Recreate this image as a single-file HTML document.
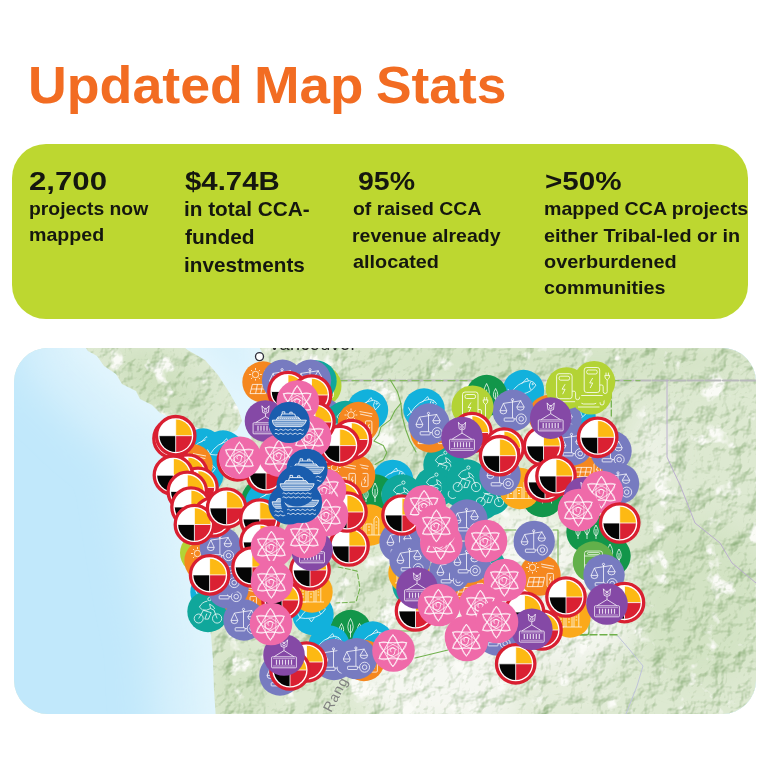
<!DOCTYPE html>
<html><head><meta charset="utf-8"><title>Updated Map Stats</title>
<style>
html,body{margin:0;padding:0;background:#fff;}
body{width:768px;height:768px;position:relative;overflow:hidden;font-family:"Liberation Sans",sans-serif;color:#161616;}
.t{position:absolute;white-space:nowrap;font-weight:bold;line-height:1;transform-origin:0 0;color:#15170f;}
.ti{color:#F26C22;}
#panel{position:absolute;left:12.3px;top:143.7px;width:736.2px;height:175.7px;background:#BDD730;border-radius:34px;}
#map{position:absolute;left:14px;top:347.5px;width:741.5px;height:366px;border-radius:34px;overflow:hidden;background:#DFEAD3;}
#map svg{position:absolute;left:-14px;top:-347.5px;}
</style></head><body>
<div id="panel"></div>
<div class="t ti" style="left:27.9px;top:59.0px;font-size:52px;transform:scaleX(1.0330);">Updated</div>
<div class="t ti" style="left:253.5px;top:59.0px;font-size:52px;transform:scaleX(1.0528);">Map</div>
<div class="t ti" style="left:376.4px;top:59.0px;font-size:52px;transform:scaleX(1.0259);">Stats</div>
<div class="t b" style="left:28.6px;top:169.0px;font-size:25.5px;transform:scaleX(1.2227);">2,700</div>
<div class="t s" style="left:28.5px;top:198.8px;font-size:19px;transform:scaleX(1.0172);">projects now</div>
<div class="t s" style="left:28.5px;top:224.9px;font-size:19px;transform:scaleX(1.0320);">mapped</div>
<div class="t b" style="left:184.5px;top:169.0px;font-size:25.5px;transform:scaleX(1.1517);">$4.74B</div>
<div class="t s" style="left:183.5px;top:200.4px;font-size:19.3px;transform:scaleX(1.0763);">in total CCA-</div>
<div class="t s" style="left:184.5px;top:228.1px;font-size:19.3px;transform:scaleX(1.0837);">funded</div>
<div class="t s" style="left:183.5px;top:256.2px;font-size:19.3px;transform:scaleX(1.0742);">investments</div>
<div class="t b" style="left:358.1px;top:169.1px;font-size:25.5px;transform:scaleX(1.1168);">95%</div>
<div class="t s" style="left:352.6px;top:199.4px;font-size:19px;transform:scaleX(1.0221);">of raised CCA</div>
<div class="t s" style="left:352.1px;top:225.5px;font-size:19px;transform:scaleX(1.0262);">revenue already</div>
<div class="t s" style="left:352.9px;top:252.1px;font-size:19px;transform:scaleX(1.0435);">allocated</div>
<div class="t b" style="left:544.8px;top:168.6px;font-size:25.5px;transform:scaleX(1.1611);">&gt;50%</div>
<div class="t s" style="left:543.9px;top:199.2px;font-size:19px;transform:scaleX(1.0319);">mapped CCA projects</div>
<div class="t s" style="left:544.4px;top:225.5px;font-size:19px;transform:scaleX(1.0430);">either Tribal-led or in</div>
<div class="t s" style="left:544.4px;top:251.5px;font-size:19px;transform:scaleX(1.0469);">overburdened</div>
<div class="t s" style="left:544.4px;top:277.5px;font-size:19px;transform:scaleX(1.0367);">communities</div>
<div id="map"><svg width="768" height="768" viewBox="0 0 768 768">
<defs>
<g id="mw">
<circle r="19.2" fill="#fff" stroke="#D91F31" stroke-width="3.3"/>
<path d="M0 0V-16.2A16.2 16.2 0 0 1 16.2 0Z" fill="#FDB913"/>
<path d="M0 0H16.2A16.2 16.2 0 0 1 0 16.2Z" fill="#DA2032"/>
<path d="M0 0V16.2A16.2 16.2 0 0 1 -16.2 0Z" fill="#050505"/>
<path d="M-16.2 0H16.2M0 -16.2V16.2" stroke="#fff" stroke-width=".8" fill="none"/>
</g>
<g id="pk">
<circle r="21.3" fill="#EF6AA9"/>
<g fill="none" stroke="#fff" stroke-opacity=".82" stroke-width="1" transform="translate(-.6,.2)">
<path d="M0 -16.2L14 8.1H-14ZM0 16.2L-14 -8.1H14Z" stroke-linejoin="round"/>
<g stroke-opacity=".6"><ellipse rx="15" ry="5.6" transform="rotate(30)"/><ellipse rx="15" ry="5.6" transform="rotate(90)"/><ellipse rx="15" ry="5.6" transform="rotate(150)"/></g>
<path d="M-1.5 1.5a2.4 2.4 0 1 1 3.4-.6a3.6 3.6 0 1 1-5.6-2.6a5 5 0 0 1 7.6 1.2"/>
</g>
</g>
<g id="bl">
<circle r="20.6" fill="#1A5DAE"/>
<g fill="none" stroke="#fff" stroke-opacity=".85" stroke-width="1">
<path d="M-16.8 -2.2H17.2C16 1.6 13.6 4 11.5 4.2H-13.2C-15.6 2.8 -16.6 .2 -16.8 -2.2Z" fill="#fff" fill-opacity=".35"/>
<path d="M-14.8 .4H15.2M-14 2.4H13.4" stroke-width=".7"/>
<path d="M-13 -2.4L-11.2 -5.4H9L11.5 -2.4" fill="#fff" fill-opacity=".3"/>
<path d="M-8.4 -5.6L-7.6 -8.4H5.4L6.6 -5.6M-7 -8.6V-10.6H-4.4V-8.6M.6 -8.6V-10.2H3V-8.6"/>
<path d="M-11.6 -3.9H9.8" stroke-dasharray="1.2 .8" stroke-width="1.1"/>
<path d="M-14.4 7.4q1.2-1.2 2.4 0t2.4 0t2.4 0t2.4 0t2.4 0t2.4 0t2.4 0t2.4 0t2.4 0t2.4 0t2.4 0t2.4 0M-14.4 11.4q1.2-1.2 2.4 0t2.4 0t2.4 0t2.4 0t2.4 0t2.4 0t2.4 0t2.4 0t2.4 0t2.4 0t2.4 0t2.4 0" stroke-width=".9"/>
</g>
</g>
<g id="pu">
<circle r="20.8" fill="#8549A6"/>
<g fill="none" stroke="#fff" stroke-opacity=".8" stroke-width=".95">
<rect x="-12.4" y="1.8" width="24.8" height="11" rx=".8"/>
<path d="M-11 3.6H11M-11 11H11" stroke-width=".6"/>
<path d="M-7.5 4.8V9.8M-4.5 4.8V9.8M-1.5 4.8V9.8M1.5 4.8V9.8M4.5 4.8V9.8M7.5 4.8V9.8" stroke-width="1.2"/>
<path d="M-9.8 1.6L0 -4.4L9.8 1.6M0 -4.4V-7.4"/>
<path d="M-3.6 -15.2L-2.8 -8.6Q0 -6.6 2.8 -8.6L3.6 -15.2L1.4 -12.6H-1.4Z"/>
<circle cy="-10.4" r="1.3"/>
</g>
</g>
<g id="lv">
<circle r="20.7" fill="#777BC0"/>
<g fill="none" stroke="#fff" stroke-opacity=".8" stroke-width=".95">
<path d="M-.5 -10V7.6M-9.6 -6.9L8.2 -9.6"/>
<circle cx="-.5" cy="-10.6" r="1.1"/>
<path d="M-9.6 -6.9L-13 .4H-6.2ZM-13 .4a3.4 3.2 0 0 0 6.8 0"/>
<path d="M7.6 -9.5L3.8 -3.3H11.2ZM3.8 -3.3a3.7 3.2 0 0 0 7.4 0"/>
<rect x="-8.8" y="7.7" width="9.8" height="3.2" rx=".6"/>
<circle cx="8.2" cy="8.6" r="5"/><circle cx="8.2" cy="8.6" r="2.3"/>
<path d="M3.2 8.6H1"/>
</g>
</g>
<g id="tl">
<circle r="20.7" fill="#10A79B"/>
<g fill="none" stroke="#fff" stroke-opacity=".8" stroke-width=".95">
<circle cx="-9.3" cy="7" r="4.5"/><circle cx="9.1" cy="7" r="4.6"/>
<circle cx="1.4" cy="-12.4" r="1.6"/>
<path d="M-9.3 7L-4.6 -1.2L3.2 1.2L.4 7.6H-3.2L-1.2 2.2M9.1 7L6 -1.4L2.6 -3M-.6 -10.4Q-6 -9.6 -8.6 -4.4L-5.6 -1.6Q-1.4 -.4 2.6 -3L1.6 -7.4Q5.4 -6 6.8 -2.6"/>
</g>
</g>
<g id="cy">
<circle r="20.7" fill="#12B1DC"/>
<g fill="none" stroke="#fff" stroke-opacity=".8" stroke-width=".95">
<path d="M-13 3.4Q-6 -8.4 6 -9.8Q10.8 -9 12.4 -5.4Q8 2.2 -2 3.6Q-8 4.4 -13 3.4ZM-13 3.4L-15.6 -1.6M-13 3.4L-16.8 6.8"/>
<path d="M-2 -6.6L3.6 -12.4L5 -9.6M-4 4L-1.6 7.4L1.4 3.2M7.2 -8.6Q4.4 -4.4 7.6 -.6"/>
<circle cx="9.2" cy="-6.4" r=".7"/>
</g>
</g>
<g id="lm">
<circle r="21" fill="#B3D335"/>
<g fill="none" stroke="#fff" stroke-opacity=".85" stroke-width=".95">
<rect x="-10" y="-14.5" width="15.5" height="25" rx="2.5"/>
<rect x="-7.5" y="-12" width="10.5" height="4" rx="1.6"/>
<path d="M-1.5 -4L-4.5 1H-1.5L-4 6"/>
<path d="M-13 13.5H8.5"/>
<path d="M5.5 3H7.5Q9 3 9 4.6V9.5Q9 11.5 11 11.5Q13 11.5 13 9.5V-2M13 -2Q10.4 -3.2 10.6 -6.6H15.4Q15.6 -3.2 13 -2M11.8 -6.6V-9.4M14.2 -6.6V-9.4"/>
</g>
</g><g id="gr">
<circle r="20.7" fill="#12964A"/>
<g fill="none" stroke="#fff" stroke-opacity=".8" stroke-width=".95">
<path d="M-9 -7Q-13.4 0 -9 4Q-4.6 0 -9 -7ZM-9 -3V7M0 -12Q-5.4 -3 0 3Q5.4 -3 0 -12ZM0 -6V7M9 -7Q4.6 0 9 4Q13.4 0 9 -7ZM9 -3V7"/>
</g>
</g>
<g id="or">
<circle r="20.7" fill="#F5871F"/>
<g fill="none" stroke="#fff" stroke-opacity=".8" stroke-width=".95">
<circle cx="-7.5" cy="-7.5" r="3.2"/>
<path d="M-7.5 -12V-14M-7.5 -3V-1.4M-12 -7.5H-14M-3 -7.5H-1.2M-10.7 -10.7L-12 -12M-4.3 -4.3L-3 -3M-10.7 -4.3L-12 -3M-4.3 -10.7L-3 -12"/>
<path d="M-10.6 2.4H4.6L2.6 11.6H-13ZM-11.8 7H3.6M-5.6 2.4L-7.4 11.6M-.4 2.4L-2.2 11.6"/>
<rect x="7" y="-1.6" width="6.4" height="13.2" rx="1.2"/>
<path d="M10.8 1.6L9.2 5H11.2L9.8 8.6M1 -11L14 -8.6M1.6 -8.4L13.4 -6"/>
</g>
</g>
<g id="yl">
<circle r="20.7" fill="#FBA91A"/>
<g fill="none" stroke="#fff" stroke-opacity=".75" stroke-width=".95">
<path d="M-12 10V-4L-9 -7L-6 -4V10ZM-4 10V-1H2V10M4 10V-6L6.4 -9L8.8 -6V10M-14 10H12"/>
<path d="M-10 -1H-8M-10 2H-8M-10 5H-8M-2 2H0M-2 5H0M5.6 -3H7.2M5.6 0H7.2M5.6 3H7.2" stroke-width="1.2"/>
</g>
</g>
<g id="lg">
<circle r="20.7" fill="#62B04A"/>
<g fill="none" stroke="#fff" stroke-opacity=".75" stroke-width=".95">
<rect x="-9" y="-11" width="18" height="19" rx="2.5"/><path d="M-9 -6H9M-9 3H9M-6 8V11M6 8V11"/><rect x="-6" y="-9.6" width="12" height="2" rx="1"/>
</g>
</g>
</defs>
<defs>
<linearGradient id="sea" gradientUnits="userSpaceOnUse" x1="14" y1="600" x2="250" y2="430">
<stop offset="0" stop-color="#BCE5FB"/><stop offset=".55" stop-color="#CBEBFB"/><stop offset="1" stop-color="#DCF2FC"/>
</linearGradient>
<filter id="hill" x="0" y="0" width="100%" height="100%" color-interpolation-filters="sRGB">
<feTurbulence type="fractalNoise" baseFrequency="0.05" numOctaves="4" seed="4" result="n"/>
<feDiffuseLighting in="n" surfaceScale="4.2" diffuseConstant="1.31" lighting-color="#ffffff" result="l"><feDistantLight azimuth="225" elevation="50"/></feDiffuseLighting>
<feComponentTransfer in="l" result="c"><feFuncR type="linear" slope=".5" intercept=".5"/><feFuncG type="linear" slope=".34" intercept=".66"/><feFuncB type="linear" slope=".56" intercept=".44"/></feComponentTransfer>
<feComposite in="c" in2="SourceGraphic" operator="in"/>
</filter>
<filter id="snow" x="0" y="0" width="100%" height="100%" color-interpolation-filters="sRGB">
<feTurbulence type="fractalNoise" baseFrequency="0.04" numOctaves="4" seed="23"/>
<feColorMatrix type="matrix" values="0 0 0 0 .98  0 0 0 0 .985  0 0 0 0 .965  0 0 0 8 -5.1"/>
<feComposite in2="SourceGraphic" operator="in"/>
</filter>
<filter id="blur30" x="-20%" y="-20%" width="140%" height="140%"><feGaussianBlur stdDeviation="20"/></filter>
<filter id="blur12"><feGaussianBlur stdDeviation="12"/></filter>
<filter id="blur6"><feGaussianBlur stdDeviation="6"/></filter>
<clipPath id="landclip"><use href="#landshape"/></clipPath>
<path id="landshape" d="M255 340L262 352L263 372L259 395L256 420L250 442L225 449L200 448L180 447L182 470L186 500L191 530L196 560L201 590L206 612L211 635L213 660L214 690L216 720H768V340ZM80 340L88 351L97 356L104 366L116 374L122 384L136 391L140 399L152 405L160 413L174 419L186 423L200 429L212 435L226 436L237 430L242 421L238 408L229 392L218 375L205 360L186 349L182 340Z"/>
</defs>
<rect x="0" y="340" width="768" height="400" fill="#C1E8FB"/>
<use href="#landshape" fill="#D8F1FC" stroke="#D8F1FC" stroke-width="120" stroke-linejoin="round" filter="url(#blur30)"/>
<use href="#landshape" fill="#E2F5FD" stroke="#E2F5FD" stroke-width="26" stroke-linejoin="round" filter="url(#blur12)"/>
<g clip-path="url(#landclip)">
<rect x="0" y="340" width="768" height="400" fill="#DDE9D1"/>
<g filter="url(#blur12)">
<ellipse cx="520" cy="610" rx="120" ry="70" fill="#F3F5EE"/>
<ellipse cx="525" cy="545" rx="45" ry="38" fill="#F6F8F2"/>
<ellipse cx="655" cy="605" rx="13" ry="34" fill="#EEF3E7"/>
<ellipse cx="455" cy="685" rx="95" ry="42" fill="#F5F7F1"/>
<ellipse cx="560" cy="690" rx="60" ry="25" fill="#E4ECDA"/>
<ellipse cx="655" cy="450" rx="20" ry="40" fill="#EDF2E6"/>
<ellipse cx="160" cy="385" rx="50" ry="28" fill="#CFE0BF" transform="rotate(35 160 385)"/>
<ellipse cx="700" cy="600" rx="70" ry="80" fill="#D3E3C4"/>
<ellipse cx="560" cy="362" rx="200" ry="14" fill="#D2E2C3"/>
<ellipse cx="240" cy="690" rx="25" ry="40" fill="#D2E2C3"/>
</g>
<rect x="0" y="340" width="768" height="400" filter="url(#snow)"/>
<rect x="0" y="340" width="768" height="400" filter="url(#hill)" opacity=".9" style="mix-blend-mode:multiply"/>
</g>
<g fill="none" stroke-linecap="round" stroke-linejoin="round">
<path d="M338 380.5H756" stroke="#B9B9BC" stroke-width="2.2" stroke-dasharray="15 2.5"/>
<path d="M667 380V457L672 468L680 485L686 500L695 523L720 543L732 563L756 583" stroke="#B9A9CF" stroke-width=".9"/>
<path d="M617 635L629 649L643 666L637 686L626 714" stroke="#BFC3DA" stroke-width="1"/>
<path d="M560 634.7H617" stroke="#6FB04A" stroke-width="1.4" stroke-dasharray="7 3"/>
<path d="M577 618V632Q577 635 580 635H586Q589 635 589 632V618" stroke="#6FB04A" stroke-width="1.2"/>
<path d="M340 380.6H480M612 380.6H640" stroke="#86BB62" stroke-width="1.4" stroke-dasharray="7 5"/>
<path d="M390.3 380L397.4 391.7L400.9 403.4L395 410.5L390.3 419.9L381 426.9L378.6 435.1L373.9 441L383.3 445.6L386.8 452.7L383.3 459.7L375.1 464.4" stroke="#72B14E" stroke-width="1.1"/>
<path d="M400.9 403.4L402 415.2L405.6 429.2L410 441L416 452" stroke="#72B14E" stroke-width="1.1"/>
<path d="M338 567L357 571L360 588L356 602L336 603" stroke="#72B14E" stroke-width="1.1" stroke-dasharray="5 2.5"/>
<path d="M398 631H414M415 658L448 650" stroke="#72B14E" stroke-width="1.1"/>
<path d="M499 530H516M553 530H558V582M499 530V560" stroke="#72B14E" stroke-width="1.1"/>
<path d="M611.3 392V416" stroke="#72B14E" stroke-width="1.3" stroke-dasharray="6 3"/>
</g>
<text transform="translate(331,713) rotate(-62)" font-family="Liberation Sans, sans-serif" font-size="14" fill="#808080" letter-spacing="1">Rang</text>
<text x="268.5" y="350" font-family="Liberation Sans, sans-serif" font-size="18" fill="#262626" letter-spacing=".4">Vancouver</text>
<circle cx="259.5" cy="356.6" r="4" fill="#fff" stroke="#2d2d3a" stroke-width="1.3"/>

<g><use href="#gr" x="350.5" y="630.5"/>
<use href="#cy" x="203" y="449"/>
<use href="#cy" x="223" y="451"/>
<use href="#cy" x="203" y="474"/>
<use href="#cy" x="211" y="592"/>
<use href="#cy" x="367.5" y="410"/>
<use href="#cy" x="392.7" y="480.4"/>
<use href="#cy" x="424" y="409"/>
<use href="#cy" x="329" y="646"/>
<use href="#cy" x="372.8" y="642"/>
<use href="#cy" x="313" y="614.5"/>
<use href="#cy" x="575" y="417"/>
<use href="#cy" x="523.5" y="390.5"/>
<use href="#gr" x="262" y="500"/>
<use href="#gr" x="375" y="495"/>
<use href="#gr" x="486.6" y="395.5"/>
<use href="#gr" x="542.5" y="496.5"/>
<use href="#gr" x="587" y="532"/>
<use href="#gr" x="610" y="556"/>
<use href="#lg" x="593.5" y="562"/>
<use href="#lm" x="320.5" y="386"/>
<use href="#cy" x="266" y="503"/>
<use href="#lv" x="322" y="418"/>
<use href="#tl" x="316" y="381"/>
<use href="#tl" x="208" y="611.5"/>
<use href="#tl" x="345.5" y="421.5"/>
<use href="#tl" x="444" y="465"/>
<use href="#tl" x="435" y="487"/>
<use href="#tl" x="462" y="487"/>
<use href="#tl" x="480" y="500"/>
<use href="#tl" x="402" y="495"/>
<use href="#tl" x="413" y="585"/>
<use href="#tl" x="482" y="570"/>
<use href="#tl" x="490" y="495"/>
<use href="#tl" x="467" y="480"/>
<use href="#tl" x="485" y="567"/>
<use href="#lm" x="201" y="553"/>
<use href="#or" x="263" y="382"/>
<use href="#or" x="192" y="464.6"/>
<use href="#or" x="243" y="598"/>
<use href="#or" x="205" y="561"/>
<use href="#or" x="358.5" y="422.5"/>
<use href="#or" x="354.6" y="475"/>
<use href="#or" x="342" y="475"/>
<use href="#or" x="431" y="432"/>
<use href="#or" x="364" y="660.5"/>
<use href="#or" x="470" y="585"/>
<use href="#or" x="549" y="415.5"/>
<use href="#or" x="587" y="465"/>
<use href="#or" x="540" y="575"/>
<use href="#yl" x="312" y="592"/>
<use href="#yl" x="370" y="525"/>
<use href="#yl" x="409" y="573"/>
<use href="#yl" x="520" y="488.5"/>
<use href="#yl" x="570" y="617"/>
<use href="#lv" x="282.6" y="380.3"/>
<use href="#lv" x="310.5" y="380.3"/>
<use href="#lv" x="244" y="620"/>
<use href="#lv" x="228" y="588"/>
<use href="#lv" x="226" y="574"/>
<use href="#lv" x="222" y="560"/>
<use href="#lv" x="220.4" y="547"/>
<use href="#lv" x="280" y="675"/>
<use href="#lv" x="429" y="424"/>
<use href="#lv" x="467" y="520"/>
<use href="#lv" x="400" y="542"/>
<use href="#lv" x="410" y="560"/>
<use href="#lv" x="450" y="572"/>
<use href="#lv" x="470" y="562"/>
<use href="#lv" x="334" y="659.5"/>
<use href="#lv" x="356.4" y="658.6"/>
<use href="#lv" x="513" y="410.3"/>
<use href="#lv" x="561" y="420"/>
<use href="#lv" x="611" y="451"/>
<use href="#lv" x="618.5" y="483.5"/>
<use href="#lv" x="500" y="475"/>
<use href="#lv" x="572" y="445"/>
<use href="#lv" x="534.2" y="541.4"/>
<use href="#lv" x="604" y="575"/>
<use href="#lv" x="497" y="635"/>
<use href="#lv" x="467" y="562"/>
<use href="#lm" x="591" y="393.5"/>
<use href="#lm" x="566.6" y="388.2"/>
<use href="#lm" x="594.2" y="382"/>
<use href="#lm" x="472.5" y="406.5"/>
<use href="#mw" x="288" y="391.5"/>
<use href="#mw" x="311.5" y="395"/>
<use href="#mw" x="173" y="438.5"/>
<use href="#mw" x="175.7" y="435.7"/>
<use href="#mw" x="237.4" y="460.8"/>
<use href="#mw" x="266" y="473"/>
<use href="#mw" x="188" y="474"/>
<use href="#mw" x="198" y="487.4"/>
<use href="#mw" x="173.4" y="475.2"/>
<use href="#mw" x="187.3" y="491.4"/>
<use href="#mw" x="191" y="507"/>
<use href="#mw" x="213" y="517"/>
<use href="#mw" x="194.4" y="524.5"/>
<use href="#mw" x="226.6" y="508"/>
<use href="#mw" x="259.8" y="519"/>
<use href="#mw" x="327" y="445"/>
<use href="#mw" x="209.6" y="574.9"/>
<use href="#mw" x="260" y="542"/>
<use href="#mw" x="252" y="567"/>
<use href="#mw" x="310" y="570"/>
<use href="#mw" x="306.5" y="662"/>
<use href="#mw" x="290" y="670"/>
<use href="#mw" x="282" y="600"/>
<use href="#mw" x="351.4" y="439.5"/>
<use href="#mw" x="339.7" y="445.6"/>
<use href="#mw" x="472" y="432.5"/>
<use href="#mw" x="402" y="515"/>
<use href="#mw" x="342" y="500"/>
<use href="#mw" x="315" y="422"/>
<use href="#mw" x="349" y="546"/>
<use href="#mw" x="418" y="607"/>
<use href="#mw" x="415.5" y="611"/>
<use href="#mw" x="347" y="512"/>
<use href="#mw" x="597.7" y="437.3"/>
<use href="#mw" x="543.5" y="446"/>
<use href="#mw" x="504" y="448"/>
<use href="#mw" x="499.6" y="455.7"/>
<use href="#mw" x="545" y="482"/>
<use href="#mw" x="556" y="476"/>
<use href="#mw" x="566" y="597"/>
<use href="#mw" x="624.5" y="602.6"/>
<use href="#mw" x="542" y="630"/>
<use href="#mw" x="524.5" y="612"/>
<use href="#mw" x="515.7" y="663.8"/>
<use href="#pu" x="265.5" y="421"/>
<use href="#pu" x="312" y="550"/>
<use href="#pu" x="284" y="655"/>
<use href="#pu" x="462" y="437.5"/>
<use href="#pu" x="417" y="588"/>
<use href="#pu" x="550.7" y="418.1"/>
<use href="#pu" x="584.5" y="497.5"/>
<use href="#pu" x="607" y="604"/>
<use href="#pu" x="531.8" y="629.3"/>
<use href="#pk" x="297.8" y="401.5"/>
<use href="#pk" x="305" y="435"/>
<use href="#pk" x="240" y="457.7"/>
<use href="#pk" x="279.6" y="455.6"/>
<use href="#pk" x="312" y="520"/>
<use href="#pk" x="272" y="547"/>
<use href="#pk" x="272" y="582"/>
<use href="#pk" x="271" y="624"/>
<use href="#pk" x="424.7" y="506.2"/>
<use href="#pk" x="310" y="437"/>
<use href="#pk" x="325" y="490"/>
<use href="#pk" x="327" y="515"/>
<use href="#pk" x="439" y="605"/>
<use href="#pk" x="480" y="605"/>
<use href="#pk" x="466" y="637"/>
<use href="#pk" x="393.5" y="650.5"/>
<use href="#pk" x="305" y="537"/>
<use href="#pk" x="602" y="492"/>
<use href="#pk" x="579" y="510"/>
<use href="#pk" x="486" y="541"/>
<use href="#pk" x="505" y="580"/>
<use href="#pk" x="481" y="606"/>
<use href="#pk" x="467" y="640"/>
<use href="#pk" x="497" y="622"/>
<use href="#pk" x="441.3" y="543.3"/>
<use href="#pk" x="437" y="525.7"/>
<use href="#mw" x="619.7" y="523"/>
<use href="#bl" x="289.2" y="422.4"/>
<use href="#bl" x="307" y="469.4"/>
<use href="#bl" x="289" y="504"/>
<use href="#bl" x="301.5" y="502.5"/>
<use href="#bl" x="297" y="486"/></g>
</svg></div>
</body></html>
